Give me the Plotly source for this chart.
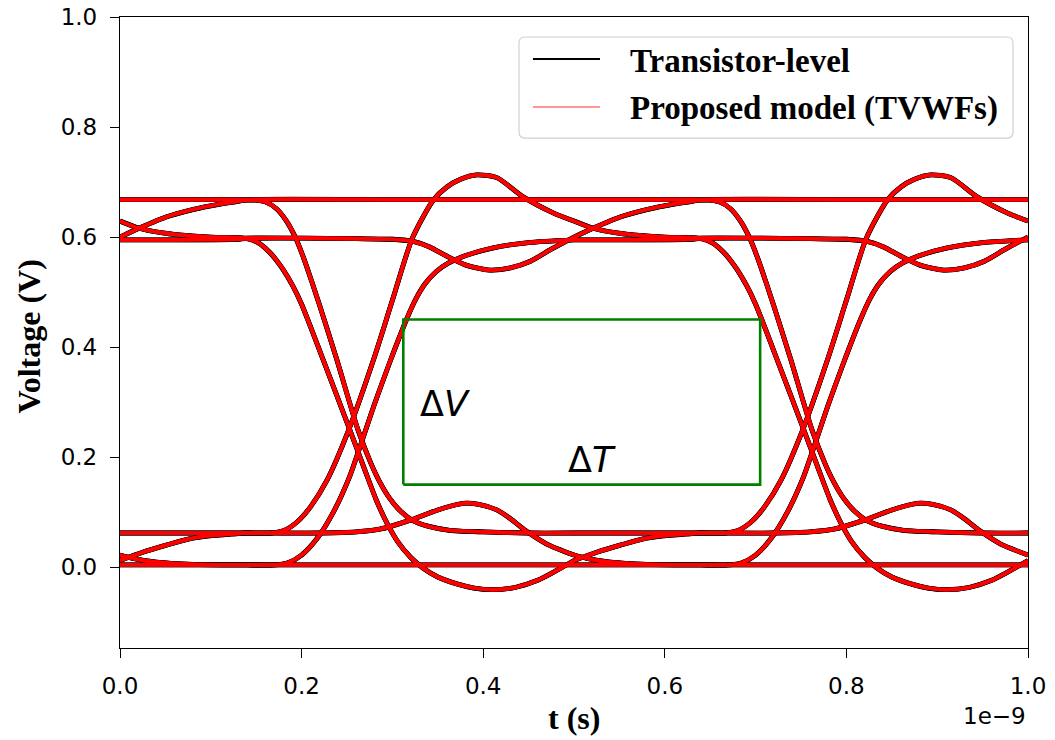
import plotly.graph_objects as go

# ---------------------------------------------------------------------------
# Eye-diagram data (time in ns, voltage in V).
# The waveform is folded with a 0.5 ns unit interval; every bit slot runs from
# one bit centre to the next and is made of a "head" (how the previous bit
# settles) followed by a "body" (what the slot does: hold, fall, rise, ring).
# ---------------------------------------------------------------------------
UI_OFFSETS_NS = [0.0, 0.5]

# heads: local time 0 .. 0.13 ns
head_ha = ([0.0, 0.06, 0.13], [0.668, 0.668, 0.668])                      # long run of ones
head_hb = ([0.0, 0.021, 0.05, 0.08, 0.11, 0.13], [0.600, 0.616, 0.636, 0.650, 0.660, 0.665])
head_hc = ([0.0, 0.021, 0.045, 0.065, 0.10, 0.13], [0.629, 0.616, 0.608, 0.604, 0.600, 0.599])
head_hd = ([0.0, 0.06, 0.13], [0.595, 0.595, 0.596])
head_la = ([0.0, 0.06, 0.13], [0.004, 0.004, 0.004])                      # long run of zeros
head_lb = ([0.0, 0.014, 0.04, 0.08, 0.13], [0.022, 0.016, 0.009, 0.005, 0.004])
head_lc = ([0.0, 0.025, 0.051, 0.075, 0.098, 0.13], [0.012, 0.027, 0.040, 0.051, 0.057, 0.061])
head_ld = ([0.0, 0.06, 0.13], [0.062, 0.062, 0.062])

# bodies: local time 0.14 .. 0.5 ns
body_hold_high = ([0.14, 0.32, 0.5], [0.668, 0.668, 0.668])
body_fall_late = (
    [0.14, 0.15, 0.16, 0.172, 0.183, 0.193, 0.202, 0.211, 0.22, 0.239, 0.262,
     0.276, 0.286, 0.297, 0.31, 0.322, 0.34, 0.363, 0.40, 0.45, 0.5],
    [0.667, 0.667, 0.664, 0.652, 0.630, 0.600, 0.563, 0.520, 0.475, 0.376, 0.250,
     0.190, 0.155, 0.125, 0.100, 0.085, 0.074, 0.067, 0.064, 0.062, 0.062],
)
body_dip = (
    [0.14, 0.20, 0.26, 0.30, 0.323, 0.341, 0.359, 0.381, 0.407, 0.43, 0.452, 0.475, 0.5],
    [0.598, 0.598, 0.597, 0.596, 0.592, 0.582, 0.566, 0.549, 0.540, 0.544, 0.556, 0.578, 0.600],
)
body_fall_early = (
    [0.14, 0.152, 0.165, 0.178, 0.19, 0.20, 0.224, 0.253, 0.27, 0.282, 0.294,
     0.306, 0.32, 0.334, 0.35, 0.37, 0.39, 0.41, 0.435, 0.46, 0.48, 0.5],
    [0.597, 0.590, 0.572, 0.545, 0.512, 0.478, 0.376, 0.250, 0.175, 0.123, 0.080,
     0.046, 0.018, -0.002, -0.018, -0.030, -0.038, -0.041, -0.037, -0.024, -0.007, 0.012],
)
body_hold_low = ([0.14, 0.32, 0.5], [0.004, 0.004, 0.004])
body_rise_late = (
    [0.14, 0.17, 0.185, 0.20, 0.217, 0.235, 0.253, 0.265, 0.28, 0.297, 0.316,
     0.326, 0.336, 0.348, 0.362, 0.38, 0.41, 0.45, 0.5],
    [0.004, 0.004, 0.008, 0.022, 0.052, 0.100, 0.165, 0.222, 0.295, 0.372, 0.452,
     0.488, 0.515, 0.537, 0.553, 0.566, 0.580, 0.590, 0.595],
)
body_bump = (
    [0.14, 0.22, 0.26, 0.286, 0.319, 0.35, 0.378, 0.395, 0.415, 0.43, 0.447, 0.47, 0.5],
    [0.062, 0.062, 0.064, 0.069, 0.085, 0.104, 0.116, 0.114, 0.104, 0.088, 0.066, 0.042, 0.022],
)
body_rise_early = (
    [0.14, 0.165, 0.18, 0.195, 0.21, 0.228, 0.252, 0.279, 0.300, 0.322, 0.345,
     0.36, 0.375, 0.393, 0.415, 0.444, 0.477, 0.5],
    [0.062, 0.062, 0.066, 0.082, 0.110, 0.158, 0.250, 0.376, 0.485, 0.598, 0.667,
     0.691, 0.705, 0.713, 0.708, 0.673, 0.644, 0.629],
)

# which bodies can follow which heads
SLOT_PATHS = [
    ([head_ha, head_hb], [body_hold_high, body_fall_late]),
    ([head_hc, head_hd], [body_dip, body_fall_early]),
    ([head_la, head_lb], [body_hold_low, body_rise_late]),
    ([head_lc, head_ld], [body_bump, body_rise_early]),
]

# eye-opening box and its labels
EYE_BOX_T = [0.312, 0.705]
EYE_BOX_V = [0.15, 0.45]
DV_LABEL_POS = (0.358, 0.296)
DT_LABEL_POS = (0.520, 0.195)

X_TICKS = [0.0, 0.2, 0.4, 0.6, 0.8, 1.0]
X_TICK_TEXT = ["0.0", "0.2", "0.4", "0.6", "0.8", "1.0"]
Y_TICKS = [0.0, 0.2, 0.4, 0.6, 0.8, 1.0]
Y_TICK_TEXT = ["0.0", "0.2", "0.4", "0.6", "0.8", "1.0"]
X_RANGE = [0.0, 1.0]
Y_RANGE = [-0.147, 1.0]

SERIES = [
    ("Transistor-level", "black", 4.8),
    ("Proposed model (TVWFs)", "red", 3.7),
]

fig = go.Figure()

for name, color, width in SERIES:
    for offset in UI_OFFSETS_NS:
        for heads, bodies in SLOT_PATHS:
            for head in heads:
                for body in bodies:
                    t = [offset + u for u in head[0] + body[0]]
                    v = head[1] + body[1]
                    fig.add_trace(go.Scatter(
                        x=t, y=v, mode="lines", name=name, showlegend=False,
                        hoverinfo="skip",
                        line=dict(color=color, width=width, shape="spline", smoothing=0.7),
                    ))

# eye-opening rectangle
t0, t1 = EYE_BOX_T
v0, v1 = EYE_BOX_V
fig.add_trace(go.Scatter(
    x=[t0, t1, t1, t0, t0], y=[v0, v0, v1, v1, v0], mode="lines",
    showlegend=False, hoverinfo="skip",
    line=dict(color="#008000", width=2.6),
))

math_font = dict(family="DejaVu Sans", size=35, color="black")
fig.add_annotation(x=DV_LABEL_POS[0], y=DV_LABEL_POS[1], text="Δ<i>V</i>",
                   showarrow=False, font=math_font, xanchor="center", yanchor="middle")
fig.add_annotation(x=DT_LABEL_POS[0], y=DT_LABEL_POS[1], text="Δ<i>T</i>",
                   showarrow=False, font=math_font, xanchor="center", yanchor="middle")

# legend box (drawn by hand for matplotlib-like layout)
lx0, lx1, ly0, ly1 = 0.4394, 0.9835, 0.8082, 0.9683
rx, ry = 0.0066, 0.0095
legend_path = (
    f"M {lx0+rx},{ly1} L {lx1-rx},{ly1} Q {lx1},{ly1} {lx1},{ly1-ry} "
    f"L {lx1},{ly0+ry} Q {lx1},{ly0} {lx1-rx},{ly0} "
    f"L {lx0+rx},{ly0} Q {lx0},{ly0} {lx0},{ly0+ry} "
    f"L {lx0},{ly1-ry} Q {lx0},{ly1} {lx0+rx},{ly1} Z"
)
fig.add_shape(type="path", path=legend_path, xref="paper", yref="paper",
              line=dict(color="#d0d0d0", width=1.2), fillcolor="rgba(255,255,255,0.85)",
              layer="above")
legend_rows = [
    (SERIES[0][0], "black", 2.2, 0.9334),
    (SERIES[1][0], "rgba(255,0,0,0.55)", 1.6, 0.8574),
]
for label, color, lw, yy in legend_rows:
    fig.add_shape(type="line", xref="paper", yref="paper", x0=0.4548, x1=0.5286,
                  y0=yy, y1=yy, line=dict(color=color, width=lw), layer="above")
    fig.add_annotation(xref="paper", yref="paper", x=0.5595, y=yy - 0.003, text=f"<b>{label}</b>",
                       showarrow=False, xanchor="left", yanchor="middle",
                       font=dict(family="Liberation Serif", size=33, color="black"))

# axis titles and offset text
label_font = dict(family="Liberation Serif", size=32, color="black")
fig.add_annotation(xref="paper", yref="paper", x=0.5, y=0, yshift=-70, text="<b>t (s)</b>",
                   showarrow=False, xanchor="center", yanchor="middle", font=label_font)
fig.add_annotation(xref="paper", yref="paper", x=0, y=0.5, xshift=-92, yshift=-4,
                   text="<b>Voltage (V)</b>", textangle=-90,
                   showarrow=False, xanchor="center", yanchor="middle", font=label_font)
fig.add_annotation(xref="paper", yref="paper", x=1.0, y=0, yshift=-68, text="1e−9",
                   showarrow=False, xanchor="right", yanchor="middle",
                   font=dict(family="DejaVu Sans", size=23, color="black"))

axis_common = dict(
    showgrid=False, zeroline=False, showline=True, linecolor="black", linewidth=1.3,
    mirror=True, ticks="outside", ticklen=9, tickwidth=1.3, tickcolor="black",
    tickfont=dict(family="DejaVu Sans", size=23, color="black"), automargin=False,
)
fig.update_xaxes(range=X_RANGE, tickvals=X_TICKS, ticktext=X_TICK_TEXT,
                 ticklabelstandoff=8, **axis_common)
fig.update_yaxes(range=Y_RANGE, tickvals=Y_TICKS, ticktext=Y_TICK_TEXT,
                 ticklabelstandoff=8, **axis_common)

fig.update_layout(
    width=1055, height=740,
    margin=dict(l=120, r=27, t=17, b=92),
    paper_bgcolor="white", plot_bgcolor="white",
    showlegend=False,
)

fig.write_html("out.html")
